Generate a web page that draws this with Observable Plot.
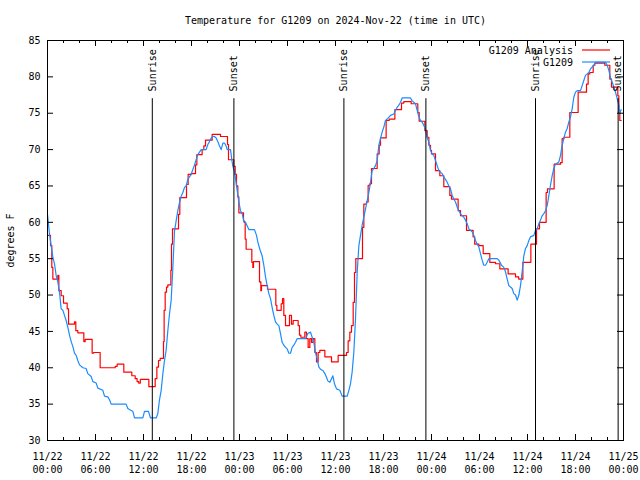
<!DOCTYPE html>
<html><head><meta charset="utf-8">
<script src="https://cdn.jsdelivr.net/npm/d3@7"></script>
<script src="https://cdn.jsdelivr.net/npm/@observablehq/plot@0.6"></script>
<style>
body{margin:0;background:#fff;}
#chart{position:relative;width:640px;height:480px;}
#legend{position:absolute;left:0;top:0;pointer-events:none;}
</style></head><body><div id="chart"></div>
<script>
// ---- data (hours since 2024-11-22 00:00 UTC) ----
const titleText = "Temperature for G1209 on 2024-Nov-22 (time in UTC)";
const yLabel = "degrees F";
const seriesNames = ["G1209 Analysis", "G1209"];
const seriesColors = ["#ff0000", "#1a8cff"];

const xTickHours = [0, 6, 12, 18, 24, 30, 36, 42, 48, 54, 60, 66, 72];
const xTickLabels = ["11/22\n00:00","11/22\n06:00","11/22\n12:00","11/22\n18:00",
  "11/23\n00:00","11/23\n06:00","11/23\n12:00","11/23\n18:00",
  "11/24\n00:00","11/24\n06:00","11/24\n12:00","11/24\n18:00","11/25\n00:00"];
const xMinorHours = [2,4,8,10,14,16,20,22,26,28,32,34,38,40,44,46,50,52,56,58,62,64,68,70];
const yTicks = [30, 35, 40, 45, 50, 55, 60, 65, 70, 75, 80, 85];

const sunEventHours = [13.1, 23.3, 37.05, 47.3, 61.0, 71.33];
const sunEventLabels = ["Sunrise", "Sunset", "Sunrise", "Sunset", "Sunrise", "Sunset"];

// G1209 Analysis (red, stepped: value holds from each hour onward)
const redHours = [0,0.375,0.54,0.67,1.29,1.42,1.71,2.0,2.46,2.63,3.375,3.54,3.79,4.54,4.71,5.58,5.75,6.58,8.46,8.71,9.54,10.54,10.96,11.2,11.4,11.6,12.67,13.46,13.67,13.875,14.08,14.5,14.58,14.71,14.875,15.04,15.42,15.5,15.625,16.375,16.54,17.375,17.58,17.96,18.5,18.67,19.33,19.54,19.75,20.58,21.625,22.5,22.625,23.29,23.46,23.625,23.79,23.92,24.5,24.58,24.71,24.83,25.54,25.67,25.75,26.5,26.67,26.75,27.5,28.54,28.67,29.21,29.375,29.54,29.75,30.25,30.5,30.71,31.33,31.5,31.67,32.17,32.375,32.58,32.79,33.0,33.21,33.42,33.625,33.83,34.04,34.67,35.5,36.33,37.375,37.58,37.79,38.0,38.21,38.375,38.54,39.375,39.54,39.875,40.08,40.29,40.5,41.21,41.46,41.625,42.33,42.71,43.42,44.25,44.54,45.46,46.29,46.46,47.17,47.46,47.67,47.875,48.0,48.5,49.04,49.54,50.29,50.5,51.33,51.625,52.375,53.2,53.4,53.92,54.46,55.29,56.0,56.54,57.58,58.5,58.9,59.42,60.42,61.125,61.5,62.33,62.5,63.33,64.125,64.33,64.54,65.29,66.33,67.375,67.58,67.79,68.21,68.42,69.67,70.29,70.5,71.29,71.42,71.54,71.7];
const redTemps = [58.2,56.8,53.8,52.2,52.7,50.6,49.9,48.9,48.1,46.0,46.3,45.1,44.8,43.6,43.9,42.0,42.1,40.0,40.2,40.5,39.4,38.9,38.5,38.1,37.9,38.4,37.4,38.5,40.1,41.0,41.3,43.6,47.9,50.4,51.1,51.4,53.4,57.0,59.1,61.1,63.4,65.2,66.6,66.7,67.9,69.3,70.0,70.5,71.3,72.1,71.8,70.7,68.6,67.7,66.6,65.0,63.5,61.3,60.2,60.0,57.7,56.3,54.5,53.8,54.6,51.8,50.6,51.3,50.8,48.6,47.9,48.8,49.5,47.2,45.8,47.2,46.0,46.5,45.8,44.5,44.2,44.9,44.0,42.8,44.0,43.5,44.0,42.1,40.8,42.1,42.4,41.5,40.8,41.7,42.1,43.7,44.9,45.8,49.0,53.1,55.0,59.3,62.5,62.8,65.1,65.3,67.4,69.4,70.6,71.6,74.0,74.2,75.5,76.4,76.6,76.3,75.1,73.9,72.6,71.7,70.6,69.9,69.4,67.1,66.4,64.9,63.7,63.2,61.6,60.9,58.9,58.0,57.0,56.8,55.7,54.5,54.3,53.6,52.9,52.5,52.2,54.5,57.0,59.1,60.0,64.1,64.6,68.0,68.2,71.5,71.7,75.1,77.9,79.0,80.4,80.6,81.6,81.9,81.6,79.7,78.6,77.4,75.1,74.0,74.0];

// G1209 observed (blue)
const blueHours = [0,0.25,0.46,0.67,0.875,1.08,1.29,1.5,1.71,1.92,2.125,2.33,2.54,2.75,2.96,3.17,3.375,3.58,3.79,4.0,4.42,4.83,5.04,5.46,5.67,6.08,6.29,6.92,7.125,7.54,7.75,7.96,9.83,10.04,10.67,10.875,11.92,12.125,12.625,12.875,13.58,13.79,14.0,14.21,14.42,14.625,14.83,15.04,15.25,15.46,15.67,15.875,16.08,16.29,16.5,16.71,16.92,17.125,17.33,17.54,17.96,18.375,18.58,18.79,19.21,19.83,20.04,20.25,20.46,20.67,20.875,21.08,21.29,21.5,21.71,21.92,22.125,22.33,22.46,22.875,23.04,23.17,23.375,23.58,23.71,23.92,24.125,24.33,24.54,24.75,25.17,25.875,26.125,26.29,26.54,26.83,27.04,27.25,27.46,27.67,27.875,28.08,28.29,28.5,28.71,28.92,29.125,29.33,29.54,29.75,29.96,30.17,30.375,30.58,30.79,31.0,31.21,32.25,32.54,32.875,33.08,33.29,33.5,33.71,33.92,34.125,34.46,34.67,34.875,35.04,35.29,35.5,35.67,35.875,36.125,36.54,36.83,37.46,37.67,37.875,38.08,38.29,38.5,38.71,38.92,39.125,39.33,39.54,39.75,39.96,40.17,40.375,40.58,40.79,41.0,41.21,41.42,41.625,41.83,42.04,42.25,42.46,42.875,43.29,43.5,43.71,43.92,44.125,44.33,45.375,45.58,46.0,46.21,46.42,46.625,46.83,47.04,47.25,47.46,47.67,47.875,48.08,48.29,48.5,48.71,48.92,49.125,49.33,49.54,49.75,49.96,50.17,50.375,50.58,50.79,51.0,51.21,51.42,51.625,51.83,52.04,52.25,52.46,52.67,52.875,53.08,53.29,53.5,53.71,53.92,54.125,54.33,54.54,54.75,54.96,55.17,56.21,56.42,56.75,57.04,57.25,57.46,57.67,57.875,58.08,58.29,58.5,58.71,58.92,59.125,59.33,59.54,59.75,59.96,60.17,60.375,60.79,61.0,61.21,61.42,61.625,61.83,62.04,62.25,62.46,62.67,62.875,63.08,63.29,63.5,63.92,64.125,64.33,64.54,64.75,64.96,65.17,65.375,65.58,65.79,66.0,66.21,66.625,66.83,67.04,67.25,67.67,67.875,68.29,68.5,69.75,69.96,70.17,70.375,70.58,70.79,71.0,71.21,71.42,71.54,71.7];
const blueTemps = [61.1,58.4,56.8,55.2,54.3,52.7,51.8,50.4,48.1,47.9,47.2,46.5,45.6,44.5,43.6,42.9,42.0,41.7,41.0,40.4,40.0,39.9,39.2,38.8,38.1,37.9,37.2,36.9,36.1,36.0,35.6,35.0,35.0,34.4,34.0,33.1,33.1,34.0,34.0,33.1,33.1,33.7,35.6,36.9,39.2,41.0,42.4,45.1,47.4,49.3,53.8,58.8,60.2,61.6,62.7,63.6,64.1,64.8,65.0,65.9,66.6,67.9,68.6,69.3,70.0,70.0,70.7,71.1,71.6,71.8,71.8,71.6,71.1,70.5,70.0,70.9,70.9,70.5,70.0,70.0,68.6,67.7,67.0,65.4,64.4,62.8,61.6,61.2,60.2,60.0,59.0,59.0,58.2,57.3,56.3,55.4,54.1,52.5,51.3,50.2,49.5,48.3,47.2,46.3,46.0,45.8,44.7,43.5,43.1,42.8,42.6,42.0,42.0,42.8,43.1,43.5,44.0,44.0,44.7,44.9,44.2,43.5,42.1,41.2,40.1,39.8,39.6,39.2,38.7,38.2,38.0,38.5,38.9,37.8,37.1,36.9,36.1,36.1,36.9,37.8,39.4,42.1,46.7,53.1,56.8,58.2,59.6,60.7,61.8,63.0,64.1,65.5,67.1,67.4,67.8,68.5,70.6,71.5,72.4,73.1,74.0,74.2,74.7,74.9,75.4,75.8,76.1,76.5,77.1,77.1,76.7,76.3,75.4,74.5,74.0,73.8,73.3,72.8,71.7,71.0,69.9,69.4,69.2,68.5,67.8,67.1,66.9,66.7,66.2,65.9,65.5,65.0,64.6,63.7,63.2,62.8,62.1,61.6,61.2,60.9,60.7,60.3,59.8,59.1,58.9,58.7,58.2,57.5,57.0,56.6,55.7,54.8,54.1,54.1,54.5,55.0,55.0,54.8,54.1,53.8,53.2,52.2,51.3,51.1,50.9,50.2,50.0,49.3,50.0,51.3,53.2,55.4,56.4,56.8,57.5,58.0,58.2,58.9,59.1,59.8,60.3,60.9,61.2,61.6,62.3,63.7,65.1,66.4,67.4,68.0,68.3,69.2,70.6,71.5,72.4,72.9,73.8,74.5,75.6,77.2,77.9,78.1,78.1,78.8,79.5,80.2,80.6,81.1,81.6,82.0,82.0,81.6,80.9,79.9,79.3,78.6,77.9,77.0,76.1,75.0,75.5];

// ---- build ----
const START = Date.UTC(2024, 10, 22);
const T = h => new Date(START + h * 3600000);
const red = redHours.map((h, i) => ({t: T(h), v: redTemps[i]}));
const blue = blueHours.map((h, i) => ({t: T(h), v: blueTemps[i]}));
const sun = sunEventHours.map((h, i) => ({t: T(h), label: sunEventLabels[i]}));
const xMajor = xTickHours.map(T);
const xMinor = xMinorHours.map(T);
const labelMap = new Map(xTickHours.map((h, i) => [+T(h), xTickLabels[i]]));

const W = 640, H = 480, mL = 47, mR = 17, mT = 40, mB = 40;
const plotW = W - mL - mR, plotH = H - mT - mB;
const FONT = "DejaVu Sans Mono";

const chart = Plot.plot({
  width: W, height: H,
  marginLeft: mL, marginRight: mR, marginTop: mT, marginBottom: mB,
  style: {fontFamily: FONT, fontSize: "10px", background: "white", color: "black"},
  x: {type: "utc", domain: [T(0), T(72)]},
  y: {domain: [30, 85]},
  marks: [
    Plot.axisY({ticks: yTicks, tickSize: 0, tickPadding: 7, label: null, tickFormat: d => String(d)}),
    Plot.axisX({ticks: xMajor, tickSize: 0, tickPadding: 10, label: null, lineHeight: 1.3,
      tickFormat: d => labelMap.get(+d)}),
    Plot.text([yLabel], {frameAnchor: "left", dx: -37, rotate: -90, lineAnchor: "middle", textAnchor: "middle"}),
    Plot.text([titleText], {frameAnchor: "top", dy: -20, lineAnchor: "middle"}),
    // curves
    Plot.line(red, {x: "t", y: "v", stroke: seriesColors[0], strokeWidth: 1.2, curve: "step-after"}),
    Plot.line(blue, {x: "t", y: "v", stroke: seriesColors[1], strokeWidth: 1.2}),
    // sunrise / sunset
    Plot.ruleX(sun, {x: "t", y1: 30, y2: 77, stroke: "black", strokeWidth: 1}),
    Plot.text(sun, {x: "t", y: 78, text: "label", rotate: -90, textAnchor: "start", lineAnchor: "middle"}),
    // ticks (inward, mirrored)
    Plot.tickX(xMajor, {insetTop: plotH - 6, stroke: "black"}),
    Plot.tickX(xMajor, {insetBottom: plotH - 6, stroke: "black"}),
    Plot.tickX(xMinor, {insetTop: plotH - 3, stroke: "black"}),
    Plot.tickX(xMinor, {insetBottom: plotH - 3, stroke: "black"}),
    Plot.tickY(yTicks, {insetRight: plotW - 6, stroke: "black"}),
    Plot.tickY(yTicks, {insetLeft: plotW - 6, stroke: "black"}),
    Plot.frame({stroke: "black", strokeWidth: 1})
  ]
});
const host = document.getElementById("chart");
host.appendChild(chart);

// legend (top right, inside the frame)
const ns = "http://www.w3.org/2000/svg";
const leg = document.createElementNS(ns, "svg");
leg.setAttribute("id", "legend");
leg.setAttribute("width", W); leg.setAttribute("height", H);
seriesNames.forEach((name, i) => {
  const yMid = 50 + i * 12;
  const tx = document.createElementNS(ns, "text");
  tx.setAttribute("x", 573); tx.setAttribute("y", yMid);
  tx.setAttribute("dy", "0.35em");
  tx.setAttribute("text-anchor", "end");
  tx.setAttribute("font-family", FONT); tx.setAttribute("font-size", "10px");
  tx.textContent = name;
  leg.appendChild(tx);
  const ln = document.createElementNS(ns, "line");
  ln.setAttribute("x1", 582); ln.setAttribute("x2", 610);
  ln.setAttribute("y1", yMid); ln.setAttribute("y2", yMid);
  ln.setAttribute("stroke", seriesColors[i]); ln.setAttribute("stroke-width", 1.2);
  leg.appendChild(ln);
});
host.appendChild(leg);
</script></body></html>
